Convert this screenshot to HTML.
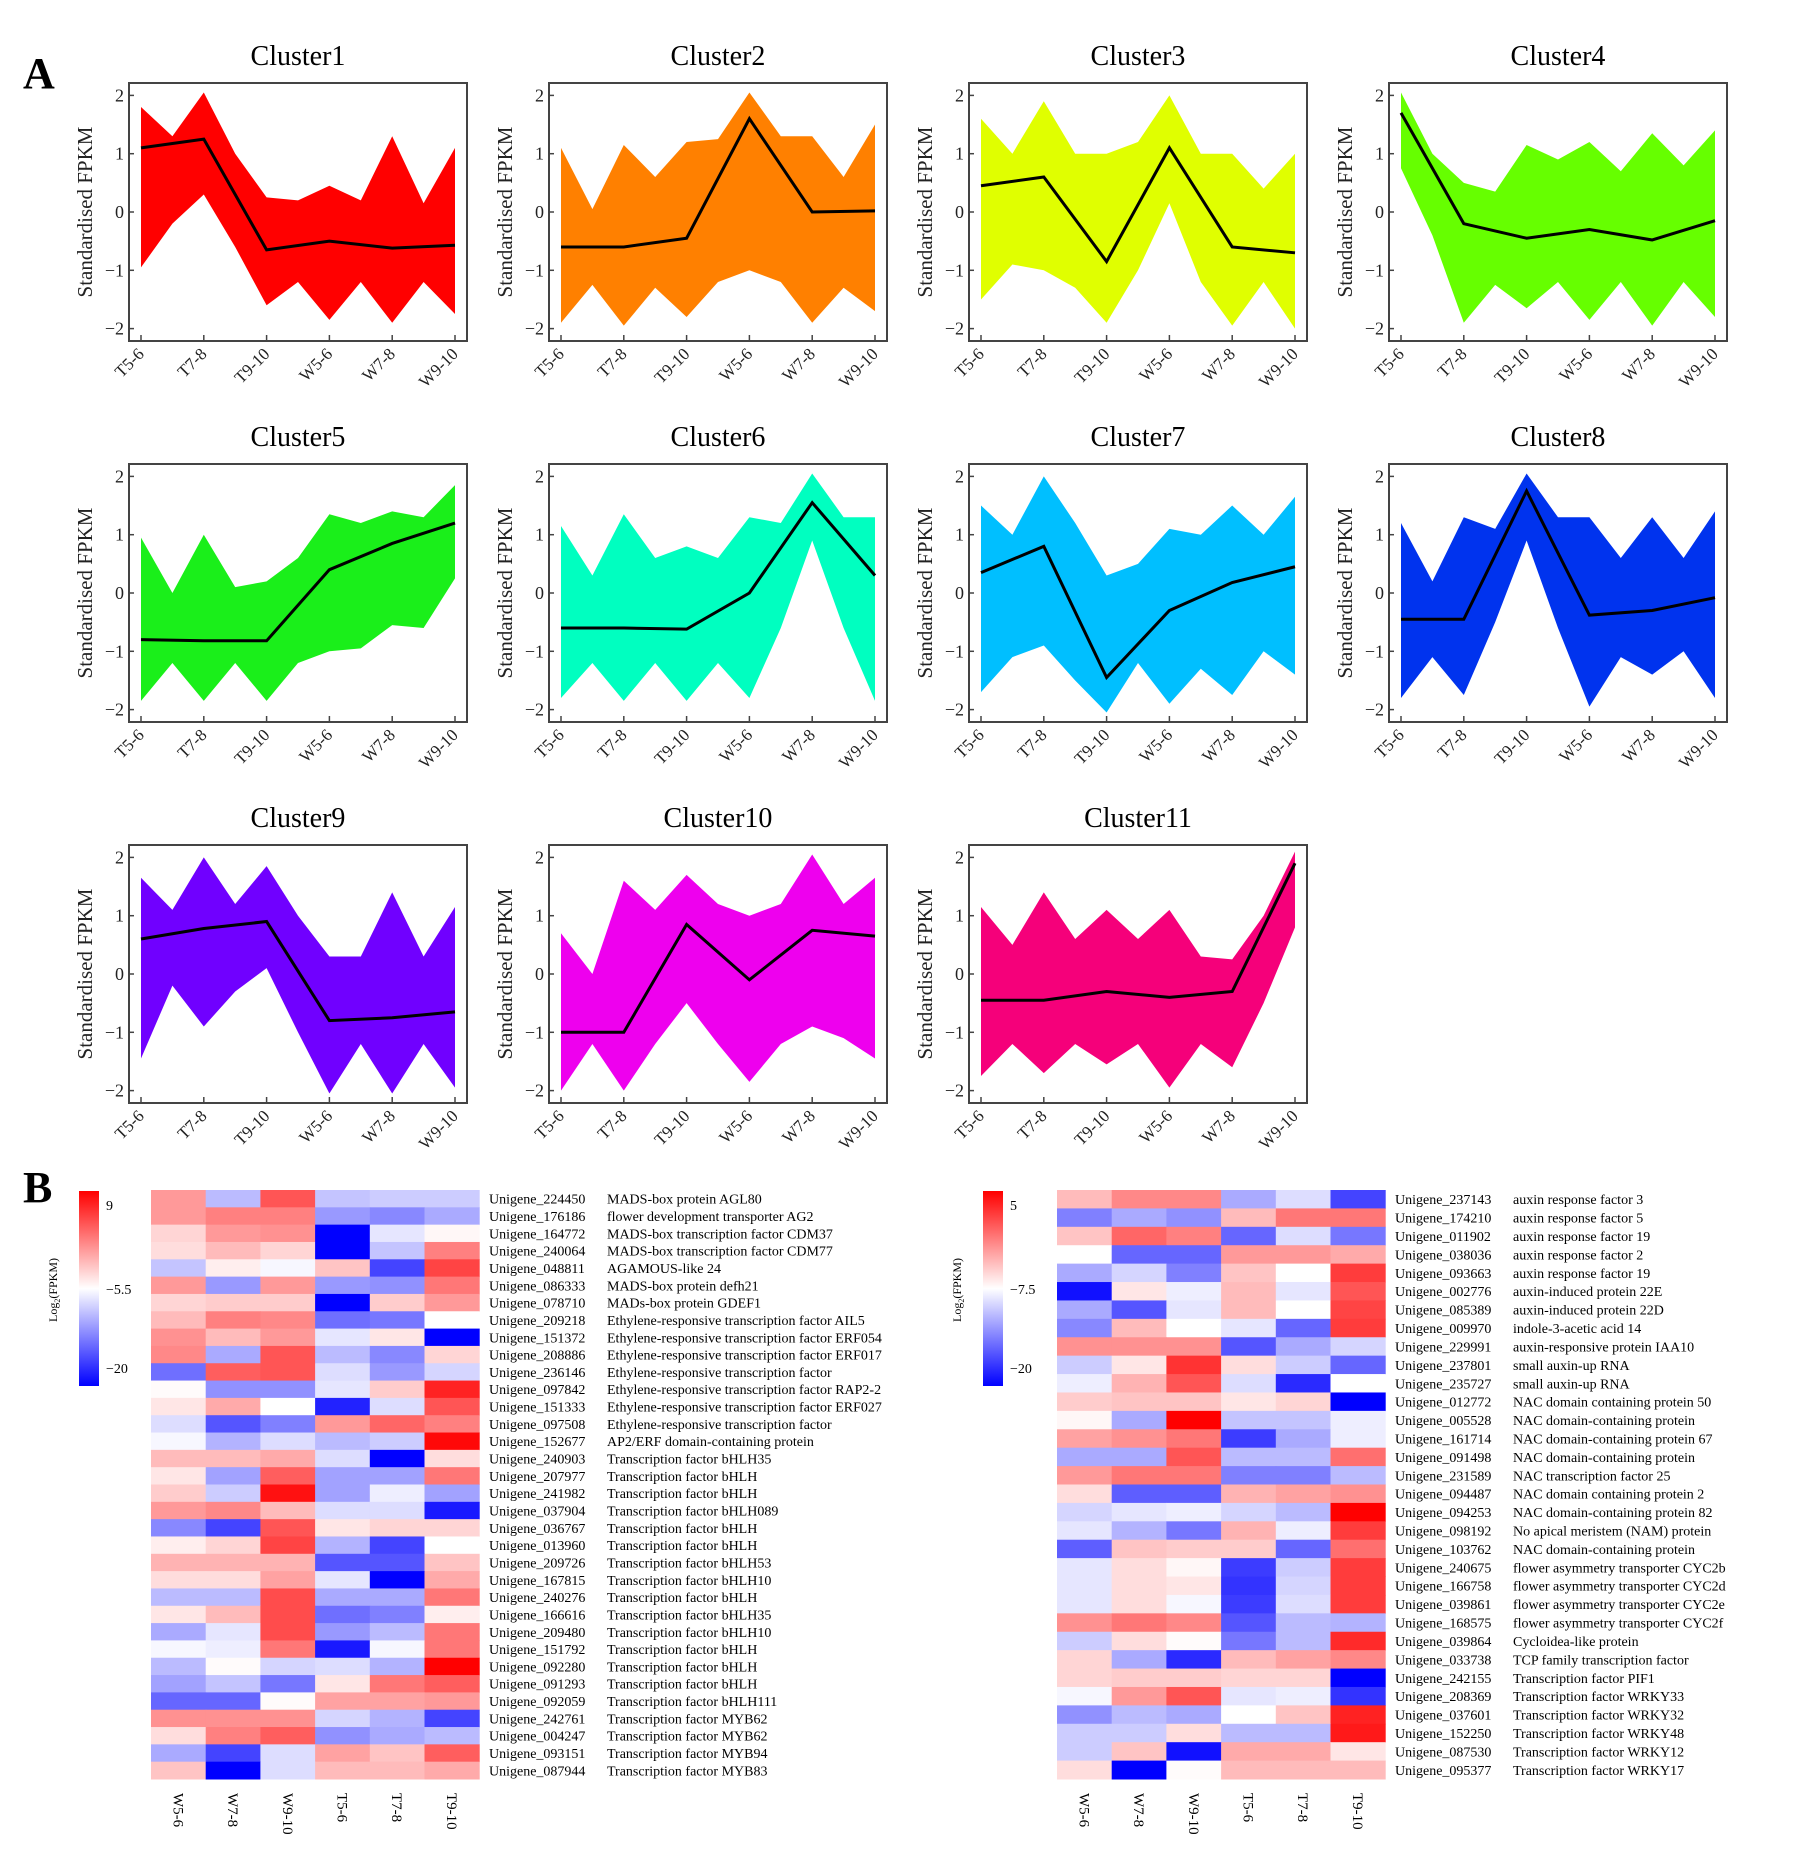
<!DOCTYPE html>
<html><head><meta charset="utf-8"><style>
html,body{margin:0;padding:0;background:#fff}
svg{display:block;font-family:"Liberation Serif",serif}
</style></head><body>
<svg id="fig" width="1803" height="1863" viewBox="0 0 1803 1863" xmlns="http://www.w3.org/2000/svg">
<text x="23" y="88" font-size="44" font-weight="bold">A</text>
<text x="23" y="1202" font-size="44" font-weight="bold">B</text>
<g id="clusters"></g>
<g id="heat"></g>
</svg>
<script>
const timepoints = ["T5-6","T7-8","T9-10","W5-6","W7-8","W9-10"];
const yTicks = [2,1,0,-1,-2];
const clusterNames = ["Cluster1","Cluster2","Cluster3","Cluster4","Cluster5","Cluster6","Cluster7","Cluster8","Cluster9","Cluster10","Cluster11"];
const clusterColors = ["#ff0000","#ff8000","#e0ff00","#66ff00","#1aef1a","#00ffc0","#00bfff","#0033ee","#7000ff","#ee00ee","#f5007a"];
const meanVals = [
 [1.1,1.25,-0.65,-0.5,-0.62,-0.57],
 [-0.6,-0.6,-0.45,1.6,0,0.02],
 [0.45,0.6,-0.85,1.1,-0.6,-0.7],
 [1.7,-0.2,-0.45,-0.3,-0.48,-0.15],
 [-0.8,-0.82,-0.82,0.4,0.85,1.2],
 [-0.6,-0.6,-0.62,0,1.55,0.3],
 [0.35,0.8,-1.45,-0.3,0.18,0.45],
 [-0.45,-0.45,1.75,-0.38,-0.3,-0.08],
 [0.6,0.78,0.9,-0.8,-0.75,-0.65],
 [-1.0,-1.0,0.85,-0.1,0.75,0.65],
 [-0.45,-0.45,-0.3,-0.4,-0.3,1.9]];
const upperVals = [
 [1.8,2.05,0.25,0.45,1.3,1.1],
 [1.1,1.15,1.2,2.05,1.3,1.5],
 [1.6,1.9,1.0,2.0,1.0,1.0],
 [2.05,0.5,1.15,1.2,1.35,1.4],
 [0.95,1.0,0.2,1.35,1.4,1.85],
 [1.15,1.35,0.8,1.3,2.05,1.3],
 [1.5,2.0,0.3,1.1,1.5,1.65],
 [1.2,1.3,2.05,1.3,1.3,1.4],
 [1.65,2.0,1.85,0.3,1.4,1.15],
 [0.7,1.6,1.7,1.0,2.05,1.65],
 [1.15,1.4,1.1,1.1,0.25,2.1]];
const upperMid = [
 [1.3,1.0,0.2,0.2,0.15],
 [0.05,0.6,1.25,1.3,0.6],
 [1.0,1.0,1.2,1.0,0.4],
 [1.0,0.35,0.9,0.7,0.8],
 [0.0,0.1,0.6,1.2,1.3],
 [0.3,0.6,0.6,1.2,1.3],
 [1.0,1.2,0.5,1.0,1.0],
 [0.2,1.1,1.3,0.6,0.6],
 [1.1,1.2,1.0,0.3,0.3],
 [0.0,1.1,1.2,1.2,1.2],
 [0.5,0.6,0.6,0.3,1.0]];
const lowerVals = [
 [-0.95,0.3,-1.6,-1.85,-1.9,-1.75],
 [-1.9,-1.95,-1.8,-1.0,-1.9,-1.7],
 [-1.5,-1.0,-1.9,0.15,-1.95,-2.0],
 [0.75,-1.9,-1.65,-1.85,-1.95,-1.8],
 [-1.85,-1.85,-1.85,-1.0,-0.55,0.25],
 [-1.8,-1.85,-1.85,-1.8,0.9,-1.85],
 [-1.7,-0.9,-2.05,-1.9,-1.75,-1.4],
 [-1.8,-1.75,0.9,-1.95,-1.4,-1.8],
 [-1.45,-0.9,0.1,-2.05,-2.05,-1.95],
 [-2.0,-2.0,-0.5,-1.85,-0.9,-1.45],
 [-1.75,-1.7,-1.55,-1.95,-1.6,0.8]];
const lowerMid = [
 [-0.2,-0.6,-1.2,-1.2,-1.2],
 [-1.25,-1.3,-1.2,-1.2,-1.3],
 [-0.9,-1.3,-1.0,-1.2,-1.2],
 [-0.4,-1.25,-1.2,-1.2,-1.2],
 [-1.2,-1.2,-1.2,-0.95,-0.6],
 [-1.2,-1.2,-1.2,-0.6,-0.6],
 [-1.1,-1.5,-1.2,-1.3,-1.0],
 [-1.1,-0.5,-0.6,-1.1,-1.0],
 [-0.2,-0.3,-1.0,-1.2,-1.2],
 [-1.2,-1.2,-1.2,-1.2,-1.1],
 [-1.2,-1.2,-1.2,-1.2,-0.5]];

const NS="http://www.w3.org/2000/svg";
function mk(tag,attrs,parent){const e=document.createElementNS(NS,tag);for(const k in attrs)e.setAttribute(k,attrs[k]);if(parent)parent.appendChild(e);return e;}
const cg=document.getElementById('clusters');
const BW=338,BH=258;
clusterNames.forEach((name,c)=>{
  const col=c%4,row=Math.floor(c/4);
  const L=129+col*420,T=83+row*381;
  const xS=i=>L+12+i*62.8;
  const yS=v=>T+129-v*58.3;
  const g=mk('g',{},cg);
  
  
  const tt=mk('text',{x:L+BW/2,y:T-18,'font-size':28,'text-anchor':'middle'},g);tt.textContent=name;
  
  
  // envelope
  let pts=[];
  for(let i=0;i<6;i++){pts.push(xS(i)+','+yS(upperVals[c][i]));if(i<5)pts.push(xS(i+0.5)+','+yS(upperMid[c][i]));}
  for(let i=5;i>=0;i--){pts.push(xS(i)+','+yS(lowerVals[c][i]));if(i>0)pts.push(xS(i-0.5)+','+yS(lowerMid[c][i-1]));}
  const env=mk('polygon',{points:pts.join(' '),fill:clusterColors[c]},g);
  
  
  const ml=mk('polyline',{points:meanVals[c].map((v,i)=>xS(i)+','+yS(v)).join(' '),fill:'none',stroke:'#000','stroke-width':3},g);
  
  
  const box=mk('rect',{x:L,y:T,width:BW,height:BH,fill:'none',stroke:'#444','stroke-width':2},g);
  
  
  yTicks.forEach(v=>{
    mk('line',{x1:L,x2:L+5,y1:yS(v),y2:yS(v),stroke:'#444','stroke-width':1.5},g);
    const t=mk('text',{x:L-5,y:yS(v)+6,'font-size':18,'text-anchor':'end',fill:'#222'},g);
    t.textContent=v<0?'\u2212'+Math.abs(v):String(v);
    
    
  });
  timepoints.forEach((tp,i)=>{
    mk('line',{x1:xS(i),x2:xS(i),y1:T+BH,y2:T+BH-6,stroke:'#444','stroke-width':1.5},g);
    const t=mk('text',{x:xS(i)+4,y:T+BH+14,'font-size':17,'text-anchor':'end',transform:`rotate(-45 ${xS(i)+4} ${T+BH+14})`,fill:'#222'},g);
    t.textContent=tp;
    
    
  });
  const yl=mk('text',{x:L-37,y:T+BH/2,'font-size':21,'text-anchor':'middle',transform:`rotate(-90 ${L-37} ${T+BH/2})`,fill:'#222'},g);
  yl.textContent='Standardised FPKM';
  
  
});

// Heatmaps
const heatCols = ["W5-6","W7-8","W9-10","T5-6","T7-8","T9-10"];
const leftIds = ["Unigene_224450","Unigene_176186","Unigene_164772","Unigene_240064","Unigene_048811","Unigene_086333","Unigene_078710","Unigene_209218","Unigene_151372","Unigene_208886","Unigene_236146","Unigene_097842","Unigene_151333","Unigene_097508","Unigene_152677","Unigene_240903","Unigene_207977","Unigene_241982","Unigene_037904","Unigene_036767","Unigene_013960","Unigene_209726","Unigene_167815","Unigene_240276","Unigene_166616","Unigene_209480","Unigene_151792","Unigene_092280","Unigene_091293","Unigene_092059","Unigene_242761","Unigene_004247","Unigene_093151","Unigene_087944"];
const leftDesc = ["MADS-box protein AGL80","flower development transporter AG2","MADS-box transcription factor CDM37","MADS-box transcription factor CDM77","AGAMOUS-like 24","MADS-box protein defh21","MADs-box protein GDEF1","Ethylene-responsive transcription factor AIL5","Ethylene-responsive transcription factor ERF054","Ethylene-responsive transcription factor ERF017","Ethylene-responsive transcription factor","Ethylene-responsive transcription factor RAP2-2","Ethylene-responsive transcription factor ERF027","Ethylene-responsive transcription factor","AP2/ERF domain-containing protein","Transcription factor bHLH35","Transcription factor bHLH","Transcription factor bHLH","Transcription factor bHLH089","Transcription factor bHLH","Transcription factor bHLH","Transcription factor bHLH53","Transcription factor bHLH10","Transcription factor bHLH","Transcription factor bHLH35","Transcription factor bHLH10","Transcription factor bHLH","Transcription factor bHLH","Transcription factor bHLH","Transcription factor bHLH111","Transcription factor MYB62","Transcription factor MYB62","Transcription factor MYB94","Transcription factor MYB83"];
const leftVals = [
[1.2,-0.8,2,-0.7,-0.6,-0.6],[1.2,1.5,1.5,-1.2,-1.4,-1],[0.5,1.2,1.3,-3,-0.3,0.1],[0.4,0.8,0.5,-3,-0.7,1.5],
[-0.7,0.2,-0.1,0.7,-2.2,2.2],[1.2,-1.2,1.2,-1.2,-1.3,1.6],[0.5,0.6,0.6,-3,0.6,1.2],[0.8,1.5,1.4,-1.7,-1.6,0],
[1.3,0.8,1.2,-0.3,0.3,-3],[1.4,-1,2,-0.8,-1.4,0.5],[-1.7,1.9,2,-0.4,-1.2,-0.5],[0.05,-1.3,-1.3,-0.3,0.6,2.6],
[0.3,1,0,-2.6,-0.4,2],[-0.4,-2,-1.5,1.2,1.8,1.5],[-0.1,-0.9,-0.4,-0.8,-0.6,2.9],[0.8,0.8,1,-0.4,-3,0.4],
[0.3,-1.1,1.9,-1.1,-1.1,1.6],[0.6,-0.6,2.8,-1.1,-0.2,-1.1],[1.2,1.4,0.8,-0.4,-0.4,-2.7],[-1.4,-2.2,2,0.3,0.5,0.5],
[0.2,0.5,2.2,-0.9,-2.2,0],[0.9,0.9,0.9,-2,-2,0.7],[0.4,0.4,1.1,-0.3,-3,1],[-0.8,-0.8,2.1,-1,-1,1.6],
[0.3,0.8,2.1,-1.7,-1.5,0.2],[-1,-0.3,2.1,-1.2,-0.8,1.6],[-0.1,-0.2,1.6,-2.7,-0.1,1.6],[-0.8,0.05,-0.5,-0.4,-0.9,3],
[-1.1,-0.7,-1.6,0.3,1.6,1.9],[-1.8,-1.8,0.05,1.1,1.1,1.2],[1.3,1.3,1.3,-0.5,-0.9,-2.2],[0.4,1.5,1.9,-1.3,-1,-0.8],
[-1,-2.2,-0.4,1.1,0.7,1.9],[0.7,-3,-0.4,0.8,0.8,1]];
const rightIds = ["Unigene_237143","Unigene_174210","Unigene_011902","Unigene_038036","Unigene_093663","Unigene_002776","Unigene_085389","Unigene_009970","Unigene_229991","Unigene_237801","Unigene_235727","Unigene_012772","Unigene_005528","Unigene_161714","Unigene_091498","Unigene_231589","Unigene_094487","Unigene_094253","Unigene_098192","Unigene_103762","Unigene_240675","Unigene_166758","Unigene_039861","Unigene_168575","Unigene_039864","Unigene_033738","Unigene_242155","Unigene_208369","Unigene_037601","Unigene_152250","Unigene_087530","Unigene_095377"];
const rightDesc = ["auxin response factor 3","auxin response factor 5","auxin response factor 19","auxin response factor 2","auxin response factor 19","auxin-induced protein 22E","auxin-induced protein 22D","indole-3-acetic acid 14","auxin-responsive protein IAA10","small auxin-up RNA","small auxin-up RNA","NAC domain containing protein 50","NAC domain-containing protein","NAC domain-containing protein 67","NAC domain-containing protein","NAC transcription factor 25","NAC domain containing protein 2","NAC domain-containing protein 82","No apical meristem (NAM) protein","NAC domain-containing protein","flower asymmetry transporter CYC2b","flower asymmetry transporter CYC2d","flower asymmetry transporter CYC2e","flower asymmetry transporter CYC2f","Cycloidea-like protein","TCP family transcription factor","Transcription factor PIF1","Transcription factor WRKY33","Transcription factor WRKY32","Transcription factor WRKY48","Transcription factor WRKY12","Transcription factor WRKY17"];
const rightVals = [
[0.8,1.4,1.4,-1,-0.4,-2.2],[-1.5,-1,-1.3,0.8,1.6,1.6],[0.7,1.8,1.5,-1.8,-0.4,-1.6],[0,-1.8,-1.8,1.2,1.2,1],
[-1,-0.5,-1.5,0.7,0,2.3],[-2.8,0.3,-0.2,0.8,-0.3,2],[-1,-2,-0.3,0.8,0,2.2],[-1.4,0.8,0,-0.3,-1.8,2.3],
[1.3,1.3,1.3,-2,-1,-0.5],[-0.6,0.3,2.4,0.4,-0.6,-1.8],[-0.2,0.9,2,-0.4,-2.5,0],[0.6,0.7,0.7,0.3,0.5,-3],
[0.1,-1,3,-0.7,-0.7,-0.2],[1.1,1.3,1.6,-2.3,-1,-0.2],[-1,-1,2,-0.8,-0.8,1.7],[1.2,1.6,1.6,-1.5,-1.5,-0.8],
[0.4,-1.9,-1.9,0.9,1.1,1.3],[-0.5,-0.3,-0.2,-0.5,-0.8,3],[-0.3,-0.9,-1.6,0.9,-0.2,2.3],[-1.9,0.7,0.6,0.6,-1.8,1.7],
[-0.3,0.4,0.1,-2.3,-0.6,2.3],[-0.3,0.4,0.3,-2.4,-0.5,2.3],[-0.3,0.4,-0.1,-2.3,-0.4,2.3],[1.3,1.6,1.4,-2,-0.8,-0.9],
[-0.6,0.4,0.05,-1.6,-0.8,2.5],[0.5,-1,-2.5,0.8,1.1,1.4],[0.5,0.6,0.6,0.5,0.5,-3],[-0.1,1.2,2,-0.3,-0.2,-2.4],
[-1.3,-0.8,-1,0,0.7,2.6],[-0.6,-0.6,0.4,-0.8,-0.8,2.7],[-0.6,0.7,-2.8,1,1,0.3],[0.4,-3,0.05,0.8,0.8,0.8]];
const leftScaleLabels = ["9","\u22125.5","\u221220"];
const rightScaleLabels = ["5","\u22127.5","\u221220"];

function colorFor(v){
  const t=Math.min(1,Math.abs(v)/3);const w=Math.round(255*(1-t));
  return v>=0?`rgb(255,${w},${w})`:`rgb(${w},${w},255)`;
}
const hg=document.getElementById('heat');
const defs=mk('defs',{},hg);
const grad=mk('linearGradient',{id:'cb',x1:0,y1:0,x2:0,y2:1},defs);
mk('stop',{offset:'0',"stop-color":'#ff0000'},grad);
mk('stop',{offset:'0.5',"stop-color":'#ffffff'},grad);
mk('stop',{offset:'1',"stop-color":'#0000ff'},grad);

function heatmap(x0,ids,desc,vals,cbx,scaleLabels,nameTag){
  const g=mk('g',{},hg);
  
  
  const top=1190,bottom=1779,cw=54.7;
  const rh=(bottom-top)/ids.length;
  vals.forEach((row,r)=>row.forEach((v,c)=>{
    const cell=mk('rect',{x:x0+c*cw,y:top+r*rh,width:cw+0.5,height:rh+0.5,fill:colorFor(v)},g);
    
    
  }));
  ids.forEach((id,r)=>{
    const t=mk('text',{x:x0+338,y:top+r*rh+rh/2+5,'font-size':14},g);t.textContent=id;
    
    
    const d=mk('text',{x:x0+456,y:top+r*rh+rh/2+5,'font-size':14},g);d.textContent=desc[r];
    
    
  });
  heatCols.forEach((c,i)=>{
    const cx=x0+i*cw+cw/2-5,cy=bottom+14;
    const t=mk('text',{x:cx,y:cy,'font-size':15,transform:`rotate(90 ${cx} ${cy})`},g);t.textContent=c;
    
    
  });
  const cb=mk('rect',{x:cbx,y:1191,width:20,height:195,fill:'url(#cb)'},g);
  
  
  [[1210,0],[1294,1],[1373,2]].forEach(([y,k])=>{
    const t=mk('text',{x:cbx+27,y:y,'font-size':14},g);t.textContent=scaleLabels[k];
    
    
  });
  const lx=cbx-22,ly=1290;
  const lt=mk('text',{x:lx,y:ly,'font-size':12,'text-anchor':'middle',transform:`rotate(-90 ${lx} ${ly})`},g);
  lt.innerHTML='Log<tspan font-size="8" dy="3">2</tspan><tspan dy="-3">(FPKM)</tspan>';
  
  
}
heatmap(151,leftIds,leftDesc,leftVals,79,leftScaleLabels,'left');
heatmap(1057,rightIds,rightDesc,rightVals,983,rightScaleLabels,'right');
</script>
</body></html>
